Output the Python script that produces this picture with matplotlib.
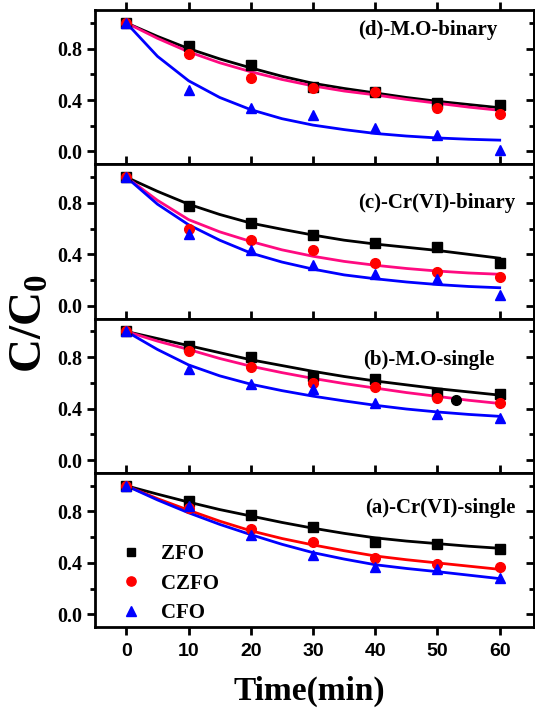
import matplotlib
matplotlib.use("Agg")
import matplotlib.pyplot as plt
from matplotlib.ticker import MultipleLocator

plt.rcParams['font.family'] = ['Liberation Serif', 'DejaVu Serif']
plt.rcParams['mathtext.fontset'] = 'custom'
plt.rcParams['mathtext.rm'] = 'Liberation Serif'
plt.rcParams['mathtext.bf'] = 'Liberation Serif:bold'

# ---------------- data ----------------
t = [0, 10, 20, 30, 40, 50, 60]
t_fit = [0, 5, 10, 15, 20, 25, 30, 35, 40, 45, 50, 55, 60]

# (a) Cr(VI)-single
a_zfo = [1.0, 0.88, 0.77, 0.68, 0.56, 0.55, 0.51]
a_czfo = [1.0, 0.83, 0.66, 0.56, 0.44, 0.39, 0.37]
a_cfo = [1.0, 0.84, 0.62, 0.46, 0.37, 0.35, 0.28]
a_zfo_fit = [1.0, 0.935, 0.873, 0.815, 0.765, 0.715, 0.67, 0.63, 0.595, 0.57, 0.55, 0.53, 0.514]
a_czfo_fit = [1.0, 0.90, 0.81, 0.725, 0.65, 0.59, 0.54, 0.495, 0.454, 0.425, 0.40, 0.375, 0.35]
a_cfo_fit = [1.0, 0.89, 0.79, 0.70, 0.62, 0.545, 0.48, 0.43, 0.386, 0.357, 0.332, 0.305, 0.278]

# (b) M.O-single
b_zfo = [1.0, 0.884, 0.805, 0.656, 0.627, 0.52, 0.512]
b_czfo = [1.0, 0.845, 0.727, 0.60, 0.565, 0.48, 0.445]
b_cfo = [1.0, 0.706, 0.59, 0.55, 0.445, 0.36, 0.33]
b_zfo_fit = [1.0, 0.945, 0.89, 0.835, 0.78, 0.735, 0.69, 0.65, 0.615, 0.585, 0.555, 0.53, 0.505]
b_czfo_fit = [1.0, 0.925, 0.86, 0.79, 0.73, 0.68, 0.635, 0.595, 0.56, 0.525, 0.495, 0.465, 0.44]
b_cfo_fit = [1.0, 0.86, 0.74, 0.655, 0.59, 0.54, 0.497, 0.46, 0.426, 0.397, 0.374, 0.355, 0.34]
b_extra_t = [53]
b_extra = [0.47]

# (c) Cr(VI)-binary
c_zfo = [1.0, 0.774, 0.643, 0.55, 0.49, 0.46, 0.335]
c_czfo = [1.0, 0.60, 0.51, 0.434, 0.335, 0.26, 0.22]
c_cfo = [1.0, 0.557, 0.434, 0.32, 0.25, 0.21, 0.086]
c_zfo_fit = [1.0, 0.89, 0.79, 0.71, 0.643, 0.595, 0.55, 0.51, 0.48, 0.455, 0.43, 0.40, 0.37]
c_czfo_fit = [1.0, 0.82, 0.67, 0.575, 0.50, 0.435, 0.385, 0.345, 0.315, 0.29, 0.27, 0.255, 0.245]
c_cfo_fit = [1.0, 0.79, 0.63, 0.51, 0.41, 0.34, 0.285, 0.24, 0.21, 0.185, 0.165, 0.15, 0.14]

# (d) M.O-binary
d_zfo = [1.0, 0.82, 0.675, 0.50, 0.46, 0.38, 0.36]
d_czfo = [1.0, 0.76, 0.57, 0.49, 0.46, 0.34, 0.295]
d_cfo = [1.0, 0.475, 0.34, 0.28, 0.18, 0.13, 0.01]
d_zfo_fit = [1.0, 0.895, 0.80, 0.72, 0.65, 0.585, 0.53, 0.49, 0.455, 0.42, 0.39, 0.365, 0.34]
d_czfo_fit = [1.0, 0.88, 0.775, 0.69, 0.62, 0.56, 0.51, 0.47, 0.44, 0.405, 0.375, 0.345, 0.32]
d_cfo_fit = [1.0, 0.74, 0.55, 0.42, 0.325, 0.255, 0.205, 0.17, 0.14, 0.12, 0.105, 0.095, 0.088]

series_names = ['ZFO', 'CZFO', 'CFO']
panel_titles = ['(d)-M.O-binary', '(c)-Cr(VI)-binary', '(b)-M.O-single', '(a)-Cr(VI)-single']
x_ticks = [0, 10, 20, 30, 40, 50, 60]

panels = [
    (d_zfo, d_czfo, d_cfo, d_zfo_fit, d_czfo_fit, d_cfo_fit),
    (c_zfo, c_czfo, c_cfo, c_zfo_fit, c_czfo_fit, c_cfo_fit),
    (b_zfo, b_czfo, b_cfo, b_zfo_fit, b_czfo_fit, b_cfo_fit),
    (a_zfo, a_czfo, a_cfo, a_zfo_fit, a_czfo_fit, a_cfo_fit),
]
# ---------------- style ----------------
marker_colors = ['black', 'red', 'blue']
markers = ['s', 'o', '^']
msizes = [6.5, 7, 7.5]
fit_colors_binary = ['black', '#FF0A80', 'blue']
fit_colors_a = ['black', 'red', 'blue']
title_pos = [(0.918, 0.87), (0.957, 0.75), (0.911, 0.73), (0.957, 0.77)]

fig = plt.figure(figsize=(5.35, 7.16), dpi=100)
axes = fig.subplots(4, 1, sharex=True, gridspec_kw=dict(hspace=0))
fig.subplots_adjust(left=0.178, right=0.998, top=0.986, bottom=0.124)

for i, (ax, pdata) in enumerate(zip(axes, panels)):
    ys = pdata[:3]
    fits = pdata[3:]
    fcols = fit_colors_a if i == 3 else fit_colors_binary
    for k in range(3):
        ax.plot(t_fit, fits[k], '-', color=fcols[k], lw=2.0, zorder=2)
    for k in range(3):
        ax.plot(t, ys[k], linestyle='none', marker=markers[k], ms=msizes[k],
                color=marker_colors[k], mec=marker_colors[k], label=series_names[k], zorder=3)
    if i == 2:
        ax.plot(b_extra_t, b_extra, linestyle='none', marker='o', ms=7, color='black', zorder=3)

    ax.set_xlim(-5, 65.5)
    ax.set_ylim(-0.1, 1.1)
    ax.yaxis.set_major_locator(MultipleLocator(0.4))
    ax.yaxis.set_minor_locator(MultipleLocator(0.2))
    ax.set_yticks([0.0, 0.4, 0.8])
    ax.set_yticklabels(['0.0', '0.4', '0.8'], fontweight='bold', fontsize=14.5)
    for sp in ax.spines.values():
        sp.set_linewidth(2.0)
    ax.tick_params(axis='y', which='both', left=True, right=False, direction='out', width=2, pad=3)
    ax.tick_params(axis='y', which='major', length=6)
    ax.tick_params(axis='y', which='minor', length=3.5)
    ax.set_xticks(x_ticks)
    ax.tick_params(axis='x', which='both', top=True, bottom=(i == 3), direction='out',
                   width=2, length=5.5, labelbottom=(i == 3), pad=6)
    # right-side ticks pointing inward
    sec = ax.secondary_yaxis('right')
    sec.set_yticks([0.0, 0.4, 0.8])
    sec.yaxis.set_minor_locator(MultipleLocator(0.2))
    sec.tick_params(axis='y', which='both', direction='in', width=2, labelright=False)
    sec.tick_params(axis='y', which='major', length=6)
    sec.tick_params(axis='y', which='minor', length=3.5)
    sec.spines['right'].set_linewidth(2.0)

    tx, ty = title_pos[i]
    ax.text(tx, ty, panel_titles[i], transform=ax.transAxes, ha='right', va='center',
            fontsize=15, fontweight='bold')

axes[3].set_xticklabels([str(v) for v in x_ticks], fontsize=14, fontweight='bold',
                        family='Liberation Sans')
leg = axes[3].legend(loc='lower left', bbox_to_anchor=(0.015, -0.095), frameon=False,
                     prop=dict(size=15, weight='bold'), handlelength=1.0,
                     handletextpad=0.95, labelspacing=0.45, markerscale=0.95)

fig.text(0.056, 0.548, r'$\mathbf{C/C_0}$', rotation=90, ha='center', va='center', fontsize=34)
fig.text(0.578, 0.034, 'Time(min)', ha='center', va='center', fontsize=24, fontweight='bold')

fig.savefig('out.png', dpi=100)
